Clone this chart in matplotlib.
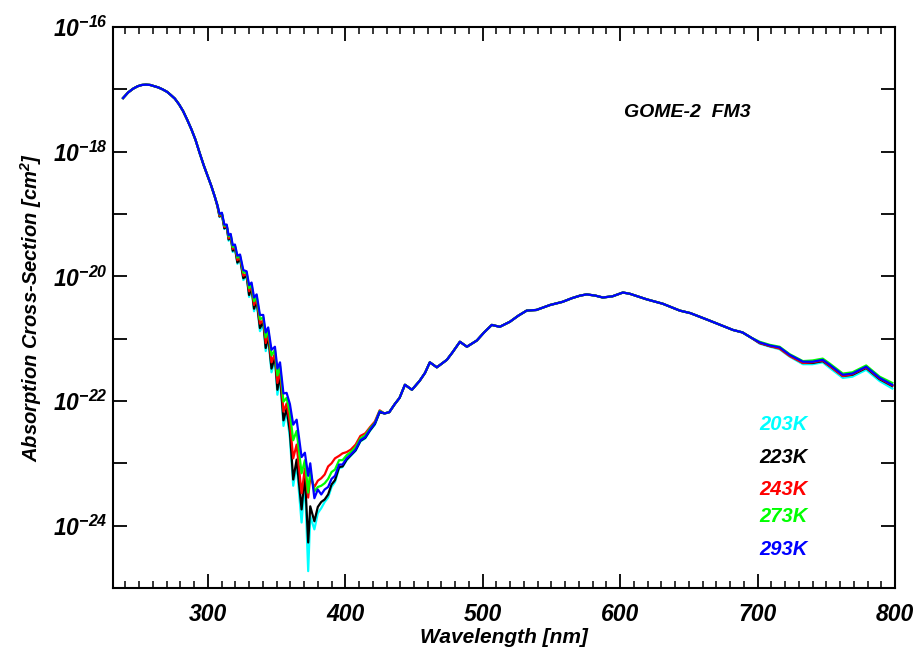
import numpy as np
import matplotlib
matplotlib.use("Agg")
import matplotlib.pyplot as plt
from matplotlib.ticker import FixedLocator, MultipleLocator

plt.rcParams['font.family'] = ['Liberation Sans', 'DejaVu Sans']
plt.rcParams['font.weight'] = 'bold'
plt.rcParams['font.style'] = 'italic'
plt.rcParams['axes.labelweight'] = 'bold'
plt.rcParams['mathtext.fontset'] = 'custom'
plt.rcParams['mathtext.rm'] = 'Liberation Sans:bold:italic'
plt.rcParams['mathtext.it'] = 'Liberation Sans:bold:italic'
plt.rcParams['mathtext.bf'] = 'Liberation Sans:bold:italic'
plt.rcParams['mathtext.default'] = 'rm'

# ---------------- data (log10 of cross-section, cm^2) ----------------
# Hartley band, shared by all temperatures
wl_uv = [238.3, 242.0, 245.6, 249.0, 252.0, 255.0, 258.0, 261.0, 264.0, 267.0,
         270.3, 273.0, 276.0, 279.0, 282.0, 285.0, 288.0, 291.0, 294.0, 297.0,
         300.0, 302.5, 305.0]
log_uv = [-17.14, -17.05, -16.99, -16.95, -16.93, -16.925, -16.93, -16.95, -16.97, -17.00,
          -17.04, -17.09, -17.15, -17.24, -17.35, -17.49, -17.64, -17.81, -18.02, -18.22,
          -18.40, -18.55, -18.72]

# Huggins band, temperature dependent
wl_hug = [307.0, 308.5, 310.2, 312.0, 313.7, 315.1, 316.6, 318.1, 319.7, 321.5,
          323.4, 325.8, 328.2, 330.0, 331.8, 333.6, 335.5, 337.9, 340.3, 342.1,
          343.9, 346.3, 348.8, 350.6, 352.5, 355.0, 357.3, 359.7, 362.1, 364.6,
          368.2, 370.6, 373.0, 374.5, 377.5, 380.0, 382.5, 385.0, 387.5, 390.0,
          392.5, 395.5, 398.0, 401.0, 404.0, 407.5, 411.0, 414.5, 418.0, 421.5,
          425.0]
log_hug_203 = [-18.88, -19.05, -19.01, -19.24, -19.21, -19.43, -19.37, -19.61, -19.55, -19.80,
               -19.72, -20.06, -20.00, -20.33, -20.20, -20.56, -20.41, -20.88, -20.76, -21.20,
               -20.98, -21.54, -21.33, -21.90, -21.62, -22.40, -22.17, -22.60, -23.36, -23.02,
               -23.95, -23.28, -24.73, -23.85, -24.06, -23.80, -23.72, -23.62, -23.55, -23.38,
               -23.30, -23.08, -23.06, -22.95, -22.88, -22.80, -22.65, -22.60, -22.48, -22.38,
               -22.18]
log_hug_223 = [-18.88, -19.04, -19.00, -19.23, -19.20, -19.41, -19.36, -19.59, -19.54, -19.78,
               -19.71, -20.03, -19.99, -20.30, -20.18, -20.52, -20.39, -20.83, -20.73, -21.15,
               -20.95, -21.48, -21.29, -21.82, -21.58, -22.31, -22.12, -22.50, -23.26, -22.94,
               -23.74, -23.18, -24.27, -23.69, -23.93, -23.70, -23.62, -23.58, -23.50, -23.34,
               -23.27, -23.06, -23.05, -22.94, -22.87, -22.79, -22.64, -22.59, -22.47, -22.37,
               -22.18]
log_hug_243 = [-18.87, -19.03, -19.00, -19.21, -19.19, -19.39, -19.35, -19.56, -19.52, -19.74,
               -19.69, -19.99, -19.96, -20.24, -20.16, -20.46, -20.36, -20.76, -20.70, -21.07,
               -20.91, -21.38, -21.24, -21.71, -21.51, -22.17, -22.04, -22.35, -22.92, -22.70,
               -23.48, -23.08, -23.55, -23.22, -23.38, -23.28, -23.24, -23.18, -23.05, -23.00,
               -22.92, -22.88, -22.84, -22.82, -22.78, -22.70, -22.56, -22.52, -22.42, -22.33,
               -22.15]
log_hug_273 = [-18.86, -19.01, -18.99, -19.19, -19.18, -19.36, -19.33, -19.53, -19.51, -19.70,
               -19.67, -19.94, -19.94, -20.19, -20.13, -20.40, -20.32, -20.69, -20.66, -20.98,
               -20.86, -21.27, -21.18, -21.59, -21.44, -22.01, -21.95, -22.19, -22.63, -22.48,
               -23.16, -22.95, -23.47, -23.12, -23.45, -23.38, -23.36, -23.32, -23.25, -23.14,
               -23.10, -22.95, -22.95, -22.87, -22.82, -22.74, -22.60, -22.55, -22.44, -22.35,
               -22.16]
log_hug_293 = [-18.86, -19.00, -18.98, -19.17, -19.17, -19.34, -19.32, -19.50, -19.49, -19.67,
               -19.65, -19.90, -19.92, -20.14, -20.10, -20.34, -20.29, -20.62, -20.62, -20.90,
               -20.82, -21.18, -21.13, -21.48, -21.38, -21.88, -21.87, -22.05, -22.38, -22.30,
               -22.90, -22.83, -23.20, -23.00, -23.56, -23.42, -23.50, -23.42, -23.38, -23.25,
               -23.20, -23.02, -23.02, -22.92, -22.86, -22.78, -22.63, -22.58, -22.46, -22.36,
               -22.17]

# Chappuis band, shared by all temperatures
wl_vis = [428.5, 432.0, 436.0, 439.5, 443.4, 448.5, 454.0, 458.0, 461.5, 466.6,
          473.9, 478.0, 483.4, 488.5, 495.7, 501.0, 506.6, 512.4, 519.7, 526.0,
          532.0, 539.0, 549.0, 558.0, 565.0, 570.8, 575.7, 582.0, 587.4, 594.5,
          602.0, 607.0, 619.4, 631.0, 643.4, 651.0, 665.0, 682.0, 689.0, 695.0]
log_vis = [-22.20, -22.18, -22.05, -21.95, -21.74, -21.82, -21.68, -21.55, -21.38, -21.46,
           -21.34, -21.22, -21.05, -21.13, -21.03, -20.90, -20.78, -20.81, -20.73, -20.63,
           -20.55, -20.54, -20.46, -20.41, -20.35, -20.31, -20.29, -20.31, -20.34, -20.32,
           -20.26, -20.28, -20.37, -20.44, -20.55, -20.59, -20.71, -20.86, -20.90, -20.98]

# Wulf band tail, slightly temperature dependent
wl_nir = [701.5, 709.0, 716.0, 723.4, 733.0, 740.0, 747.4, 752.5, 762.0, 769.0,
          779.0, 788.8, 798.0]
log_nir_203 = [-21.08, -21.13, -21.17, -21.29, -21.41, -21.41, -21.38, -21.47, -21.63, -21.61,
               -21.50, -21.68, -21.80]
log_nir_223 = [-21.07, -21.12, -21.15, -21.27, -21.39, -21.39, -21.36, -21.44, -21.60, -21.58,
               -21.47, -21.65, -21.76]
log_nir_243 = [-21.07, -21.12, -21.16, -21.28, -21.39, -21.38, -21.35, -21.44, -21.60, -21.57,
               -21.46, -21.64, -21.75]
log_nir_273 = [-21.05, -21.10, -21.13, -21.25, -21.36, -21.35, -21.32, -21.40, -21.56, -21.54,
               -21.43, -21.61, -21.71]
log_nir_293 = [-21.06, -21.11, -21.14, -21.26, -21.37, -21.37, -21.34, -21.42, -21.58, -21.56,
               -21.45, -21.63, -21.74]

temps = ["203K", "223K", "243K", "273K", "293K"]
colors = ["#00ffff", "#000000", "#ff0000", "#00ff00", "#0000ff"]
hug_logs = [log_hug_203, log_hug_223, log_hug_243, log_hug_273, log_hug_293]
nir_logs = [log_nir_203, log_nir_223, log_nir_243, log_nir_273, log_nir_293]

xticks_major = [300, 400, 500, 600, 700, 800]
ylabel_exps = [-24, -22, -20, -18, -16]

# ---------------- figure ----------------
fig = plt.figure(figsize=(9.16, 6.52), dpi=100)
ax = fig.add_axes([0.1234, 0.0982, 0.8537, 0.8604])

for name, col, hl, nl in zip(temps, colors, hug_logs, nir_logs):
    wl = np.array(wl_uv + wl_hug + wl_vis + wl_nir)
    lg = np.array(log_uv + hl + log_vis + nl)
    ax.plot(wl, 10.0 ** lg, color=col, lw=1.6, solid_joinstyle='round')

ax.set_yscale('log')
ax.set_xlim(231, 800)
ax.set_ylim(1e-25, 1e-16)

ax.xaxis.set_major_locator(FixedLocator(xticks_major))
ax.xaxis.set_minor_locator(MultipleLocator(10))
ax.set_xticklabels([str(v) for v in xticks_major])

yt = [10.0 ** e for e in range(-25, -15)]
ax.yaxis.set_major_locator(FixedLocator(yt))
ax.yaxis.set_minor_locator(FixedLocator([]))
ax.set_yticklabels([("$10^{%d}$" % e) if e in ylabel_exps else "" for e in range(-25, -15)])

for e in ylabel_exps:
    if e > -16:
        ax.axhline(10.0 ** e, color='black', lw=0.9, ls=(0, (2.2, 1.6)), zorder=0.5)

ax.tick_params(axis='both', which='major', direction='in', top=True, right=True,
               length=10, width=1.3)
ax.tick_params(axis='x', which='minor', direction='in', top=True, bottom=True,
               length=5, width=1.1)
ax.tick_params(axis='x', which='major', pad=11, labelsize=16.5)
ax.tick_params(axis='y', which='major', pad=4, labelsize=16.5)
for sp in ax.spines.values():
    sp.set_linewidth(1.5)

ax.set_xlabel("Wavelength [nm]", fontsize=15, labelpad=1)
ax.set_ylabel("Absorption Cross-Section [cm$^{2}$]", fontsize=14.5, labelpad=6)

ax.text(0.735, 0.847, "GOME-2  FM3", transform=ax.transAxes, fontsize=14,
        ha='center', va='center')

leg_y = [0.292, 0.232, 0.175, 0.128, 0.068]
for name, col, yy in zip(temps, colors, leg_y):
    ax.text(0.827, yy, name, color=col, transform=ax.transAxes, fontsize=14.5,
            ha='left', va='center')

fig.savefig("out.png", dpi=100)
